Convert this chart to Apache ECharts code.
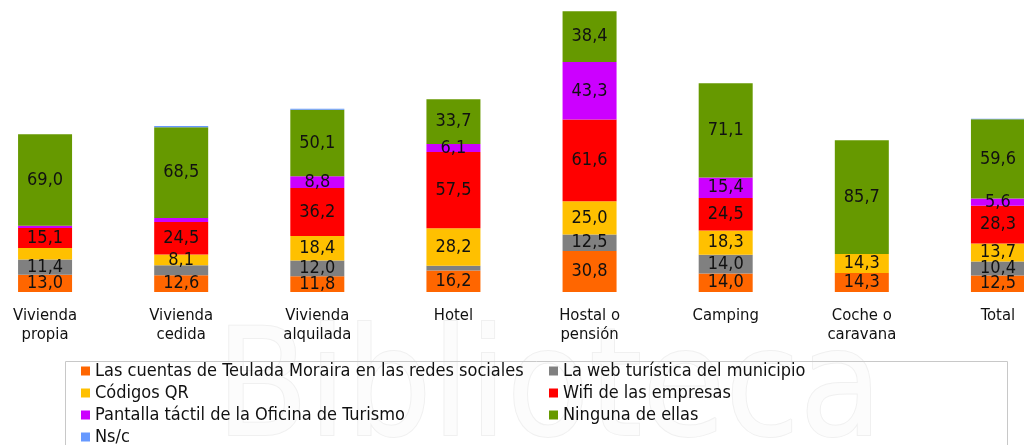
<!DOCTYPE html>
<html>
<head>
<meta charset="utf-8">
<script src="https://cdn.jsdelivr.net/npm/echarts@6/dist/echarts.min.js"></script>
<style>
html, body { margin: 0; padding: 0; background: #fff; }
#view { width: 1024px; height: 445px; }
</style>
</head>
<body>
<div id="view"></div>
<script>
var myChart = echarts.init(document.getElementById("view"));

/* categorías */
var categories = ['Vivienda\npropia', 'Vivienda\ncedida', 'Vivienda\nalquilada', 'Hotel',
    'Hostal o\npensión', 'Camping', 'Coche o\ncaravana', 'Total'];

/* series (en el orden de apilado, de abajo a arriba) */
var seriesNames = [
    'Las cuentas de Teulada Moraira en las redes sociales',
    'La web turística del municipio',
    'Códigos QR',
    'Wifi de las empresas',
    'Pantalla táctil de la Oficina de Turismo',
    'Ninguna de ellas',
    'Ns/c'
];
var redesSociales = [13.0, 12.6, 11.8, 16.2, 30.8, 14.0, 14.3, 12.5];
var webMunicipio  = [11.4, 7.5, 12.0, 3.6, 12.5, 14.0, 0, 10.4];
var codigosQR     = [8.8, 8.1, 18.4, 28.2, 25.0, 18.3, 14.3, 13.7];
var wifiEmpresas  = [15.1, 24.5, 36.2, 57.5, 61.6, 24.5, 0, 28.3];
var pantalla      = [1.6, 3.0, 8.8, 6.1, 43.3, 15.4, 0, 5.6];
var ninguna       = [69.0, 68.5, 50.1, 33.7, 38.4, 71.1, 85.7, 59.6];
var nsc           = [0, 0.8, 0.8, 0, 0, 0, 0, 0.5];

var allData = [redesSociales, webMunicipio, codigosQR, wifiEmpresas, pantalla, ninguna, nsc];
var colors = ['#FF6600', '#808080', '#FFC000', '#FF0000', '#CC00FF', '#669900', '#6699FF'];

// etiquetas que no aparecen en el original [serie, categoría]
var hiddenLabels = [[2, 0], [1, 1]];

var font = "'DejaVu Sans Condensed', 'DejaVu Sans', sans-serif";

function isHidden(s, i) {
    for (var k = 0; k < hiddenLabels.length; k++) {
        if (hiddenLabels[k][0] === s && hiddenLabels[k][1] === i) return true;
    }
    return false;
}

var series = allData.map(function (arr, s) {
    return {
        name: seriesNames[s],
        type: 'bar',
        stack: 'total',
        barWidth: 54,
        itemStyle: { color: colors[s] },
        emphasis: { disabled: true },
        data: arr.map(function (v, i) {
            return {
                value: v,
                label: { show: v >= 5 && !isHidden(s, i) }
            };
        }),
        label: {
            position: 'inside',
            color: '#111',
            fontFamily: font,
            fontSize: 18,
            formatter: function (p) {
                return p.value.toFixed(1).replace('.', ',');
            }
        }
    };
});

var legendText = { color: '#111', fontFamily: font, fontSize: 18, lineHeight: 18 };

option = {
    animation: false,
    grid: { left: -23, right: -42, top: 0, bottom: 153, outerBoundsMode: 'none', containLabel: false },
    xAxis: [{
        type: 'category',
        data: categories,
        axisLine: { show: false },
        axisTick: { show: false },
        axisLabel: {
            margin: 14,
            color: '#111',
            fontFamily: font,
            fontSize: 16.5,
            lineHeight: 19,
            interval: 0
        }
    }],
    yAxis: [{
        type: 'value',
        min: 0,
        max: 220,
        show: false,
        splitLine: { show: false }
    }],
    legend: [{
        orient: 'vertical',
        left: 76,
        top: 357,
        height: 120,
        itemWidth: 9,
        itemHeight: 9,
        itemGap: 4,
        icon: 'rect',
        textStyle: legendText,
        data: [seriesNames[0], seriesNames[2], seriesNames[4], seriesNames[6]]
    }, {
        orient: 'vertical',
        left: 544,
        top: 357,
        height: 120,
        itemWidth: 9,
        itemHeight: 9,
        itemGap: 4,
        icon: 'rect',
        textStyle: legendText,
        data: [seriesNames[1], seriesNames[3], seriesNames[5]]
    }],
    graphic: [{
        type: 'text',
        left: 215,
        top: 320,
        z: -10,
        silent: true,
        style: {
            text: 'Biblioteca',
            fontSize: 150,
            fontFamily: font,
            fill: '#fcfcfc',
            stroke: '#f0f0f0',
            lineWidth: 2
        }
    }, {
        type: 'rect',
        z: -5,
        silent: true,
        shape: { x: 65.5, y: 361.5, width: 942, height: 100 },
        style: { fill: 'none', stroke: '#c8c8c8', lineWidth: 1 }
    }],
    series: series
};

myChart.setOption(option);
</script>
</body>
</html>
